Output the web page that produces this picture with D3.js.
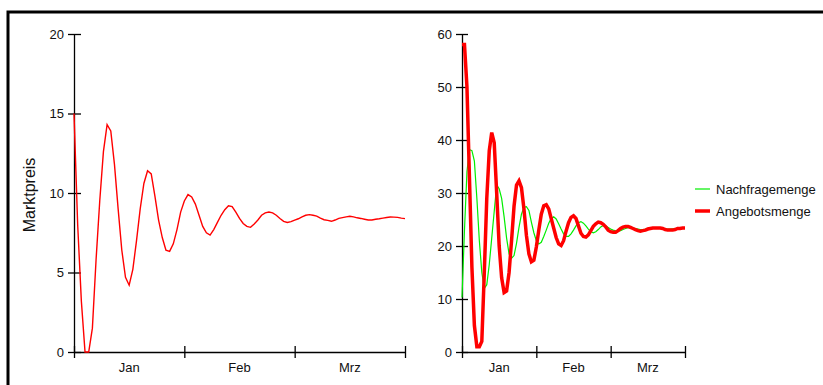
<!DOCTYPE html>
<html>
<head>
<meta charset="utf-8">
<script src="https://cdn.jsdelivr.net/npm/d3@7"></script>
<style>
  html, body { margin: 0; padding: 0; background: #fff; }
  svg { display: block; font-family: "Liberation Sans", Arial, sans-serif; }
</style>
</head>
<body>
<svg id="chart" width="823" height="385"></svg>
<script>
// months shown under the x axes (one tick every 30 days)
const months = ['Jan', 'Feb', 'Mrz'];
const dayTicks = [0, 30, 60, 90];

// Marktpreis, one value per day
const price = [
  15, 8.0, 3.2, 0, 0, 1.5, 5.8, 9.5, 12.6, 14.3,
  13.9, 11.8, 9.0, 6.4, 4.7, 4.2, 5.2, 7.0, 9.0, 10.6,
  11.4, 11.2, 9.8, 8.3, 7.2, 6.4, 6.33, 6.8, 7.7, 8.8,
  9.5, 9.9, 9.75, 9.3, 8.6, 7.9, 7.5, 7.35, 7.7, 8.15,
  8.6, 8.95, 9.2, 9.15, 8.8, 8.4, 8.08, 7.9, 7.84, 8.05,
  8.3, 8.6, 8.75, 8.8, 8.75, 8.6, 8.4, 8.22, 8.15, 8.2,
  8.3, 8.38, 8.5, 8.6, 8.64, 8.6, 8.55, 8.42, 8.32, 8.28,
  8.22, 8.3, 8.4, 8.45, 8.5, 8.54, 8.5, 8.44, 8.4, 8.35,
  8.3, 8.3, 8.35, 8.38, 8.42, 8.46, 8.49, 8.48, 8.47, 8.42,
  8.39
];

// Nachfragemenge, one value per day (right panel, green)
const demand = [
  10.3, 23, 34, 38.2, 38.0, 36, 29, 21, 15, 12.0,
  12.7, 16.5, 21.5, 26.5, 31.5, 30.8, 29, 25.5, 21.5, 18.5,
  17.7, 18.2, 20.5, 23.5, 26, 27.3, 27.4, 26.7, 24.5, 22.5,
  21, 20.4, 20.7, 21.8, 23, 24.3, 25.2, 25.5, 25.1, 24.2,
  23.2, 22.3, 21.8, 21.8, 22.3, 23.0, 23.8, 24.4, 24.6, 24.3,
  23.8, 23.2, 22.7, 22.5, 22.7, 23.1, 23.6, 23.85, 23.8, 23.5,
  23.2, 23.0, 22.85, 22.8, 22.9, 23.1, 23.3, 23.45, 23.5, 23.4,
  23.3, 23.2, 23.1, 23.1, 23.15, 23.2, 23.25, 23.3, 23.3, 23.3,
  23.3, 23.25, 23.2, 23.2, 23.2, 23.25, 23.3, 23.3, 23.35, 23.35,
  23.4
];

// Angebotsmenge, one value per day (right panel, red)
const supply = [
  58, 58, 50, 33, 16, 5, 1, 1, 2, 15,
  29, 38, 41.4, 39.5, 30, 20, 14, 11.2, 11.5, 15,
  21, 27.5, 31.5, 32.3, 31, 27, 22, 18.5, 17, 17.3,
  19.8, 23, 26, 27.6, 27.8, 27, 25.2, 23.4, 21.6, 20.4,
  20.1, 21, 22.8, 24.4, 25.4, 25.7, 25.2, 23.8, 22.4, 21.8,
  21.7, 22.1, 22.9, 23.7, 24.2, 24.5, 24.4, 24.1, 23.6, 23.0,
  22.7, 22.6, 22.6, 22.9, 23.3, 23.55, 23.7, 23.7, 23.5, 23.3,
  23.1, 22.9, 22.8, 22.9, 23.0, 23.2, 23.3, 23.4, 23.4, 23.4,
  23.4, 23.3, 23.1, 23.0, 23.0, 23.0, 23.1, 23.3, 23.3, 23.4,
  23.4
];

const priceTicks = [0, 5, 10, 15, 20];
const qtyTicks = [0, 10, 20, 30, 40, 50, 60];

const svg = d3.select('#chart');

svg.append('rect')
  .attr('width', 823).attr('height', 385)
  .attr('fill', '#fff');

// frame (only top and left edges are inside the picture)
svg.append('rect')
  .attr('x', 8).attr('y', 12)
  .attr('width', 900).attr('height', 500)
  .attr('fill', 'none')
  .attr('stroke', '#000')
  .attr('stroke-width', 3);

function drawPanel(opts) {
  const x = d3.scaleLinear().domain([0, 90]).range([opts.left, opts.right]);
  const y = d3.scaleLinear().domain([0, opts.max]).range([352, 34]);
  const band = d3.scaleBand().domain(months).range([opts.left, opts.right]);

  const g = svg.append('g');

  // y axis
  const ya = g.append('g')
    .attr('transform', 'translate(' + opts.left + ',0)')
    .call(d3.axisLeft(y).tickValues(opts.ticks).tickSize(6).tickSizeOuter(0).tickPadding(4));
  ya.selectAll('.tick line').attr('x1', opts.inner);

  // x axis with month boundaries
  const xa = g.append('g')
    .attr('transform', 'translate(0,352)')
    .call(d3.axisBottom(x).tickValues(dayTicks).tickFormat('').tickSize(6).tickSizeOuter(0));
  xa.selectAll('.tick line').attr('y1', -6);

  // month labels
  g.append('g')
    .attr('transform', 'translate(0,352)')
    .call(d3.axisBottom(band).tickSize(0).tickPadding(11))
    .call(s => s.select('.domain').remove());

  g.selectAll('.domain, .tick line')
    .attr('stroke', '#000')
    .attr('stroke-width', 1.3);
  g.selectAll('.tick text')
    .attr('fill', '#111')
    .style('font-size', '13px')
    .style('font-family', '"Liberation Sans", Arial, sans-serif');

  const line = d3.line()
    .x((d, i) => x(i))
    .y(d => y(d));

  opts.series.forEach(function(s) {
    g.append('path')
      .datum(s.values)
      .attr('fill', 'none')
      .attr('stroke', s.color)
      .attr('stroke-width', s.width)
      .attr('stroke-linejoin', 'miter')
      .attr('d', line);
  });
}

drawPanel({
  left: 74, right: 405, max: 20, ticks: priceTicks, inner: 7,
  series: [{values: price, color: '#ff0000', width: 1.4}]
});

drawPanel({
  left: 462, right: 685, max: 60, ticks: qtyTicks, inner: 6,
  series: [
    {values: demand, color: '#00ee00', width: 1.2},
    {values: supply, color: '#ff0000', width: 3.5}
  ]
});

// y label of the left panel
svg.append('text')
  .attr('transform', 'translate(35,195) rotate(-90)')
  .attr('text-anchor', 'middle')
  .style('font-size', '16px')
  .attr('fill', '#111')
  .text('Marktpreis');

// legend
const legend = [
  {name: 'Nachfragemenge', color: '#00ee00', width: 1.2},
  {name: 'Angebotsmenge', color: '#ff0000', width: 3.5}
];
const lg = svg.append('g')
  .selectAll('g')
  .data(legend)
  .enter().append('g')
  .attr('transform', (d, i) => 'translate(695,' + (189 + i * 22) + ')');
lg.append('line')
  .attr('x1', 0).attr('x2', 15)
  .attr('stroke', d => d.color)
  .attr('stroke-width', d => d.width);
lg.append('text')
  .attr('x', 21)
  .attr('dy', '0.35em')
  .style('font-size', '13px')
  .attr('fill', '#111')
  .text(d => d.name);
</script>
</body>
</html>
